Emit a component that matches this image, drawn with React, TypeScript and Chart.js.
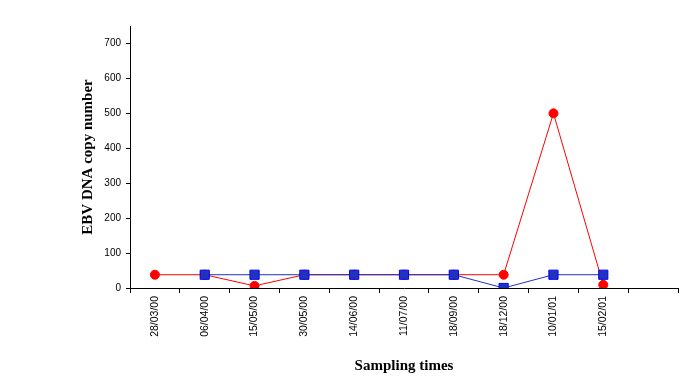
import React, { useEffect, useRef } from "react";
import { Chart, registerables } from "chart.js";

Chart.register(...registerables);

const categories = [
  "28/03/00", "06/04/00", "15/05/00", "30/05/00", "14/06/00",
  "11/07/00", "18/09/00", "18/12/00", "10/01/01", "15/02/01", "",
];
const redSeries = [38, 38, 6, 38, 38, 38, 38, 38, 500, 9, null];
const blueSeries = [null, 38, 38, 38, 38, 38, 38, 0, 38, 38, null];
const yMin = 0;
const yMax = 750;
const yStep = 100;
const yTitle = "EBV DNA copy number";
const xTitle = "Sampling times";

export default function App() {
  const ref = useRef<HTMLCanvasElement | null>(null);
  useEffect(() => {
    if (!ref.current) return;
    const chart = new Chart(ref.current, {
      type: "line",
      data: {
        labels: categories,
        datasets: [
          {
            label: "blue",
            data: blueSeries,
            borderColor: "#2233BB",
            borderWidth: 1,
            backgroundColor: "#2233BB",
            pointStyle: "rect",
            pointRadius: 6.5,
            pointBorderColor: "#0000FF",
            pointBackgroundColor: "#2233BB",
            pointBorderWidth: 1,
            spanGaps: false,
          },
          {
            label: "red",
            data: redSeries,
            borderColor: "#FF0000",
            borderWidth: 1,
            backgroundColor: "#FF0000",
            pointStyle: "circle",
            pointRadius: 4.5,
            pointBorderColor: "#FF0000",
            pointBackgroundColor: "#FF0000",
            pointBorderWidth: 1,
          },
        ],
      },
      options: {
        responsive: false,
        animation: false,
        layout: { autoPadding: false, padding: { left: 0, right: 4, top: 26, bottom: 0 } },
        plugins: { legend: { display: false }, tooltip: { enabled: false } },
        scales: {
          x: {
            type: "category",
            offset: true,
            afterFit: (s: any) => { s.height = 96; },
            grid: { display: true, drawOnChartArea: false, drawTicks: true, tickLength: 5, color: "#000", offset: true },
            border: { color: "#000", width: 1 },
            ticks: {
              autoSkip: false,
              minRotation: 90,
              maxRotation: 90,
              padding: 3,
              color: "#000",
              font: { family: "Liberation Sans, Arial", size: 10.5 },
            },
            title: {
              display: true,
              text: xTitle,
              color: "#000",
              font: { family: "Liberation Serif, Times New Roman", size: 15, weight: "bold" },
              padding: { top: 0, bottom: 9 },
            },
          },
          y: {
            min: yMin,
            max: yMax,
            afterFit: (s: any) => { s.width = 130; },
            afterBuildTicks: (s: any) => { s.ticks = s.ticks.filter((t: any) => t.value % yStep === 0); },
            grid: { display: true, drawOnChartArea: false, drawTicks: true, tickLength: 4, color: "#000" },
            border: { color: "#000", width: 1 },
            ticks: {
              stepSize: yStep,
              padding: 5,
              color: "#000",
              font: { family: "Liberation Sans, Arial", size: 10 },
            },
            title: {
              display: true,
              text: yTitle,
              color: "#000",
              font: { family: "Liberation Serif, Times New Roman", size: 15, weight: "bold" },
              padding: { top: 79, bottom: 0 },
            },
          },
        },
      },
    });
    return () => chart.destroy();
  }, []);
  return (
    <div style={{ position: "fixed", left: 0, top: 0, width: 682, height: 384, background: "#fff" }}>
      <canvas ref={ref} width={682} height={384} style={{ display: "block" }} />
    </div>
  );
}
